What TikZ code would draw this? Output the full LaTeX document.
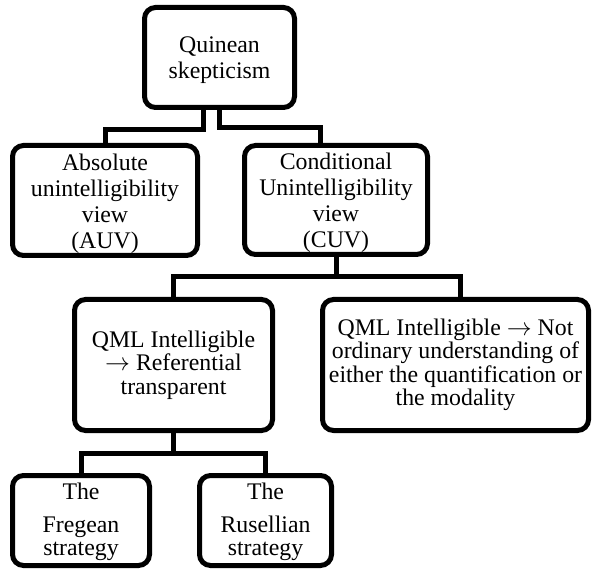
\documentclass[tikz,border=0pt]{standalone}
\usepackage{fontspec}
\setmainfont{Liberation Serif}
\usetikzlibrary{calc}
\newcommand{\topstrut}[1]{\rule{0pt}{#1}}
\newcommand{\myarrow}{$\rightarrow$}
\begin{document}
\begin{tikzpicture}[x=1pt,y=-1pt,
  box/.style={draw=black, line width=5pt, rounded corners=11pt, align=center, inner sep=0pt,
    font=\fontsize{23.8}{26}\selectfont},
  low/.style={font=\fontsize{23.8}{23.5}\selectfont},
  conn/.style={draw=black, line width=5pt, line join=miter}]
\useasboundingbox (0,0) rectangle (592,569);
\node[box, minimum width=150pt, minimum height=100pt] (root) at (219.5,57.5) {\topstrut{22pt}Quinean\\skepticism};
\node[box, minimum width=185pt, minimum height=110pt] (auv) at (105,200.5) {\topstrut{23pt}Absolute\\unintelligibility\\view\\(AUV)};
\node[box, minimum width=183pt, minimum height=109pt] (cuv) at (336,200) {\topstrut{23pt}Conditional\\Unintelligibility\\view\\(CUV)};
\node[box, low, minimum width=198pt, minimum height=131pt] (qml1) at (173.5,365) {QML Intelligible\\\myarrow{} Referential\\transparent};
\node[box, low, minimum width=266pt, minimum height=131pt] (qml2) at (455.5,365) {QML Intelligible \myarrow{} Not\\ordinary understanding of\\either the quantification or\\the modality};
\node[box, low, minimum width=137pt, minimum height=90pt] (freg) at (81,520.5) {\topstrut{19pt}The\\[9.5pt]Fregean\\strategy};
\node[box, low, minimum width=132pt, minimum height=90pt] (rus) at (265.5,520.5) {\topstrut{19pt}The\\[9.5pt]Rusellian\\strategy};
\draw[conn] ([xshift=-16pt]root.south) -- ++(0,20) -| (auv.north);
\draw[conn] ([xshift=-0.5pt]root.south) -- ++(0,18) -| ([xshift=-16pt]cuv.north);
\coordinate (j1) at ($(cuv.south)+(0,20)$);
\draw[conn] (cuv.south) -- (j1);
\draw[conn] (qml1.north) |- (j1) -| ([xshift=4.5pt]qml2.north);
\coordinate (j2) at ($(qml1.south)+(0,20)$);
\draw[conn] (qml1.south) -- (j2);
\draw[conn] (freg.north) |- (j2) -| (rus.north);
\end{tikzpicture}
\end{document}
